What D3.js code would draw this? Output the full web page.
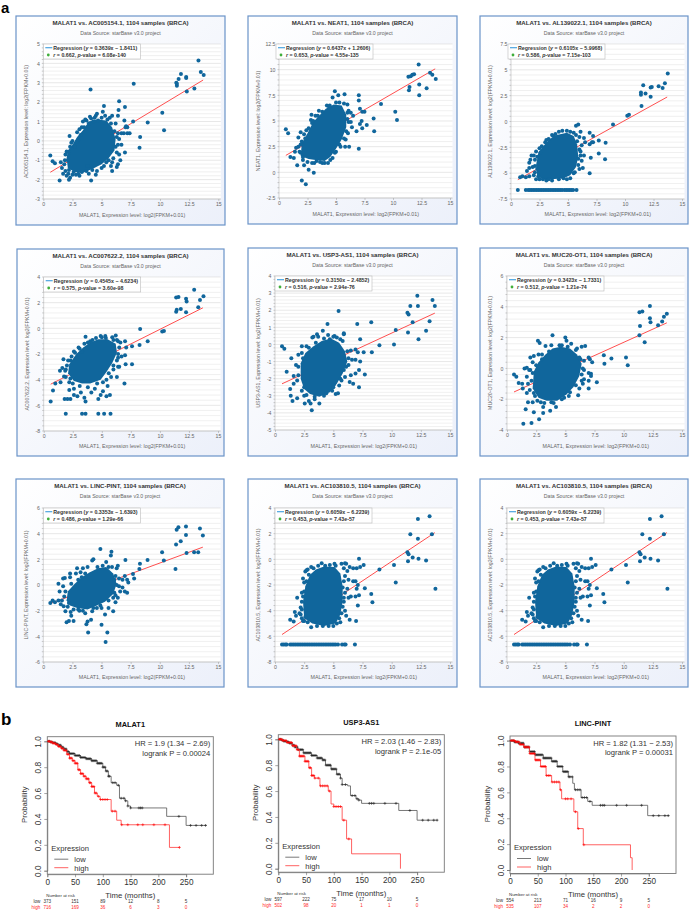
<!DOCTYPE html>
<html><head><meta charset="utf-8">
<script src="https://cdn.jsdelivr.net/npm/d3@7"></script>
<style>html,body{margin:0;background:#fff}svg{display:block}text{font-family:"Liberation Sans",Arial,sans-serif}</style>
</head><body><svg id="c" width="689" height="917"></svg>
<script>
// ---------- scatter data ----------
const scatterGenes = ["AC005154.1","NEAT1","AL139022.1","AC007622.2","USP3-AS1","MUC20-OT1","LINC-PINT","AC103810.5","AC103810.5"];
const regressionLabels = ["0.3639x − 1.8411","0.6437x + 1.2606","0.6105x − 5.9968","0.4545x − 4.6234","0.3150x − 2.4852","0.3423x − 1.7331","0.3353x − 1.6393","0.6059x − 6.2239","0.6059x − 6.2239"];
const statLabels = [["0.662","6.08e-140"],["0.653","4.55e-135"],["0.586","7.15e-103"],["0.575","3.60e-98"],["0.516","2.94e-76"],["0.512","1.21e-74"],["0.486","1.29e-66"],["0.453","7.43e-57"],["0.453","7.43e-57"]];
const yDomains = [[-3,5],[-2.5,12.5],[-7.5,7.5],[-8,4],[-5,4],[-4,6],[-6,6],[-8,4],[-8,4]];
const yMajor = [1,2.5,2.5,2,1,2,2,2,2];
const xTickValues = [0,2.5,5,7.5,10,12.5,15];
const regressionEnds = [[[0.6,-1.62],[13.7,3.14]],[[0.6,1.65],[13.7,10.08]],[[0.6,-5.63],[13.7,2.37]],[[0.6,-4.35],[13.7,1.60]],[[0.6,-2.30],[13.7,1.83]],[[0.6,-1.53],[13.7,2.96]],[[0.6,-1.44],[13.7,2.95]],[[0.6,-5.86],[13.7,2.08]],[[0.6,-5.86],[13.7,2.08]]];
// dense centre of each cloud (outline in data units)
const core1=[[2.0,-0.9],[2.1,-1.4],[2.7,-1.6],[3.4,-1.65],[4.2,-1.45],[5.0,-1.2],[5.6,-0.9],[6.1,-0.5],[6.2,0.1],[5.9,0.7],[5.4,1.05],[4.6,1.1],[3.9,1.0],[3.4,0.55],[2.9,0.2],[2.5,-0.2],[2.1,-0.5]];
const core2=[[1.9,1.6],[2.0,2.8],[2.5,3.8],[3.0,4.9],[3.6,5.6],[4.1,6.2],[4.8,6.6],[5.5,6.5],[5.9,5.6],[5.9,4.4],[5.5,3.2],[5.0,2.3],[4.5,1.5],[4.0,1.1],[3.2,1.2],[2.6,1.3]];
const core3=[[2.3,-5.3],[2.2,-4.2],[2.4,-3.0],[2.9,-2.3],[3.4,-1.7],[4.0,-1.3],[4.9,-1.1],[5.5,-1.4],[5.8,-2.2],[5.9,-3.4],[5.7,-4.4],[5.2,-5.2],[4.6,-5.5],[3.6,-5.6],[2.8,-5.6]];
const core4=[[2.1,-3.5],[2.2,-2.8],[2.8,-2.0],[3.4,-1.5],[4.0,-1.1],[4.7,-0.85],[5.5,-0.85],[6.2,-1.2],[6.3,-1.9],[5.9,-2.7],[5.4,-3.4],[4.9,-4.0],[4.0,-4.3],[3.3,-4.3],[2.6,-4.1]];
const core5=[[2.2,-2.0],[2.2,-1.1],[2.6,-0.5],[3.3,-0.1],[4.0,0.2],[4.8,0.35],[5.5,0.1],[6.0,-0.4],[6.2,-1.0],[5.8,-1.7],[5.3,-2.3],[4.7,-2.8],[3.8,-3.05],[3.0,-2.9],[2.5,-2.6]];
const core6=[[2.2,-1.3],[2.3,-0.2],[2.7,0.4],[3.3,0.9],[3.9,1.3],[4.6,1.4],[5.4,1.3],[6.0,0.9],[6.4,0.3],[6.2,-0.5],[5.7,-1.2],[5.1,-1.7],[4.3,-2.1],[3.4,-2.1],[2.7,-1.9]];
const core7=[[2.0,-1.2],[2.1,-0.5],[2.7,0.1],[3.3,0.6],[4.0,1.0],[4.7,1.3],[5.4,1.4],[6.0,0.9],[6.3,0.1],[6.0,-0.7],[5.3,-1.3],[4.6,-1.6],[3.8,-1.9],[2.9,-1.8],[2.3,-1.6]];
const core8=[[2.5,-4.6],[2.4,-3.3],[2.6,-2.1],[3.0,-1.2],[3.5,-0.8],[4.2,-0.55],[5.1,-0.6],[5.6,-1.1],[5.8,-2.1],[5.8,-3.3],[5.6,-4.3],[5.2,-5.0],[4.2,-5.2],[3.2,-5.0]];
// individually readable points
const pts1=[[1.5,-1.1],[1.6,-1.4],[1.7,-1.7],[1.8,-1.2],[1.9,-0.7],[2,-1.8],[2.1,-1],[2.2,-1.5],[2.2,-0.6],[2.3,-1.9],[2,-0.55],[2.3,-0.3],[2.25,0.25],[2.6,-1.6],[2.8,-1.75],[3,-1.7],[3.3,-1.6],[2.9,-0.05],[2.9,0.45],[3.1,0.6],[3.2,0.3],[3,0.05],[3.4,1],[3.6,1.1],[3.5,0.7],[3.9,0.9],[4.1,1.15],[4.3,1],[4.5,1.3],[4.6,1.4],[4.7,1.05],[5,1.2],[5.1,1.5],[5.3,1.3],[5.5,1.1],[5.7,1.2],[5.9,1.3],[6.1,0.5],[6.2,0.9],[6.4,0.4],[6.5,0.1],[6.7,-0.2],[6.9,0.4],[7,-0.6],[6.5,-0.7],[6.4,-1.2],[6.6,-1],[5.6,-1],[5.8,-1.3],[5,-1.4],[4.5,-1.75],[4.2,-1.5],[3.7,-1.55],[3.8,-1.3],[5.4,-1.1],[6,-0.9],[6.2,-0.3],[6.7,0.4],[7.2,0.7],[7.2,0.4],[7.4,0.4],[13.3,4.15],[13.5,3.55],[13.75,3.4],[11.4,3],[11.45,2.85],[11.45,2.95],[11.6,3.2],[11.8,3.45],[12.25,3.3],[12.25,3.25],[12.3,2.55],[12.95,2.7],[10.2,1.45],[10.35,0.55],[8.95,0.95],[8.3,0.2],[8.25,-0.35],[7.75,2.95],[4.05,2.65],[7.7,1],[7.1,0.75],[7.05,0.7],[6.95,1.05],[7,1.75],[6.5,2.05],[6.45,1.6],[6.4,1.3],[5.2,1.8],[0.6,-0.75],[0.8,-1.05],[1,-1.15],[1.4,-2.05],[2.2,-2],[4.1,-2.05],[5.9,-1.55],[6.3,-1.35],[2.7,-0.3],[2.5,0],[2.4,-0.1],[3.3,0.7],[3.7,1.05],[4,1.25],[4.4,1.2],[5.8,0.9],[6.3,0.2],[6.4,-0.2],[6.3,-0.6],[5.9,-1.1],[5.2,-1.3],[4.6,-1.55],[3.9,-1.7],[3.1,-1.8],[2.5,-1.75],[1.9,-1.55],[1.85,-1],[2.15,-1.7]];
const pts2=[[0.6,4.2],[0.8,3.8],[1,1.5],[1.3,1.4],[1.6,0.7],[2.2,0.7],[2.6,0.25],[3.05,-0.05],[2,-0.8],[2.35,-1.15],[1.4,2],[1.5,2.4],[1.7,2.5],[1.7,3.4],[1.9,3.9],[1.9,1.9],[2,3],[2.1,1.2],[2.2,3.7],[2.4,4.1],[2.8,5.1],[2.85,5.6],[2.9,4.8],[3.2,5.5],[3.5,6],[4.2,6.5],[4.45,6.5],[4.7,7.3],[4.9,7.9],[5.2,7.5],[5.75,7.6],[5.3,6.8],[5.7,6.7],[6,6.6],[6.1,6],[6.3,5.8],[6.5,5.5],[6,5.2],[6.3,4.9],[6.4,4.4],[7,7.5],[7,7],[7.1,6.2],[7.3,5.9],[7.25,5],[7.1,4.7],[7.3,4.3],[6.8,4],[7.7,4.6],[7.5,5.9],[6.05,3.8],[5.85,3.2],[5.8,2.5],[6.15,2.5],[7,2.3],[4.7,1.4],[4.3,0.9],[4,0.9],[3.6,1],[3.1,0.9],[2.9,0.9],[5,2],[5.4,2.5],[8.3,5.25],[8.35,4],[8.95,6.65],[10.2,5.9],[10.35,5.1],[11.35,9.3],[11.55,9.35],[11.7,9.5],[11.85,9.55],[12.25,10.5],[12.3,8.55],[12.3,7.5],[11.4,8],[11.45,8.3],[12.95,8.2],[13.25,9.7],[13.45,9.5],[13.75,9.1],[1.8,2],[1.9,2.7],[2.3,3.3],[2.6,4.3],[3,5],[3.4,5.5],[3.8,5.9],[4.4,6.3],[5,6.8],[6,5.8],[6.1,4.9],[5.9,4],[5.7,3.3],[5.3,2.7],[4.9,1.9],[4.5,1.2],[3.8,0.9],[3.3,1.1],[2.5,1],[2.1,1.5]];
const pts3=[[0.6,-6.64],[1.3,-6.64],[1.5,-6.64],[1.65,-6.64],[1.8,-6.64],[1.95,-6.64],[2.1,-6.64],[2.25,-6.64],[2.4,-6.64],[2.55,-6.64],[2.7,-6.64],[2.85,-6.64],[3,-6.64],[3.15,-6.64],[3.3,-6.64],[3.45,-6.64],[3.6,-6.64],[3.75,-6.64],[3.9,-6.64],[4.05,-6.64],[4.2,-6.64],[4.35,-6.64],[4.5,-6.64],[4.7,-6.64],[4.85,-6.64],[5,-6.64],[5.15,-6.64],[5.3,-6.64],[5.45,-6.64],[5.75,-6.64],[0.8,-5.4],[1,-5.3],[1.3,-5.4],[1.4,-4.8],[1.6,-5.3],[1.6,-4.5],[1.6,-4],[1.7,-3.7],[1.8,-3.3],[1.9,-4.4],[2,-3.3],[2.1,-4.9],[2.1,-3.7],[2.2,-5.6],[2.3,-4.6],[2.3,-3.4],[2.4,-5.3],[2.5,-2.6],[2.6,-3],[2.8,-5.6],[3,-2],[3.3,-1.7],[3.1,-5.7],[3.6,-5.7],[3.7,-1.4],[3.9,-1.2],[4.2,-1],[4.5,-0.9],[4.9,-0.9],[5.2,-1],[5.5,-1.1],[5.7,-0.4],[5.9,-0.3],[5.7,-1.3],[6,-1.5],[6.1,-1],[6.2,-2.3],[6.4,-1.6],[6.5,-2],[6,-2.7],[5.9,-3.6],[6.1,-3.3],[6,-4.6],[5.5,-5],[5.2,-5.5],[4.6,-5.5],[6.9,-5],[6.9,-2.2],[7.1,-2],[7.2,-2],[6.9,-1.1],[7.2,-1.4],[7,-3.5],[7.7,-1.85],[7.7,-3.1],[8.3,-2.05],[8.25,-3.65],[8.95,-0.3],[10.2,0.55],[10.35,0.65],[11.4,2.6],[11.4,2.8],[11.45,1.5],[11.6,3.5],[11.8,2.7],[12.25,3.3],[12.35,3.35],[12.25,2.4],[12.95,3.4],[13.3,3.25],[13.5,3.7],[13.75,4.65],[2,-5.2],[2.1,-4.3],[2.2,-2.9],[2.7,-2.4],[3.1,-1.8],[3.6,-1.3],[5.8,-1.9],[6.1,-2.9],[6.2,-3.8],[5.9,-4.2],[5.6,-4.9],[4.9,-5.6],[4.2,-5.6],[3.3,-5.6],[2.5,-5.6],[6.4,-3.3],[6.3,-4.5]];
const pts4=[[0.6,-5.7],[0.8,-4.85],[1,-4.3],[1.45,-4.2],[1.4,-3.3],[1.6,-3.1],[1.7,-2.4],[1.85,-3.3],[1.9,-3.8],[1.75,-3.75],[2,-2.9],[2.3,-2.5],[2.4,-2.2],[2.7,-1.9],[3,-1.5],[3.3,-1.8],[3.5,-1.2],[3.6,-0.65],[4,-1],[4.2,-0.9],[4.9,-0.6],[5.3,-0.6],[5.35,-0.75],[5.9,-0.7],[6.2,-0.55],[6,-0.9],[6.4,-1],[6.6,-1.1],[7,-1],[7.1,-1.5],[7.6,-1.4],[6.4,-2],[6.7,-2.2],[6.3,-2.5],[7,-2.1],[7.05,-2.8],[7.6,-2.8],[6.5,-3],[6,-3.2],[5.8,-3.8],[6.3,-3.8],[6.4,-3],[6.95,-4.3],[5.4,-4],[5.5,-4.5],[5.1,-4.9],[5.7,-5.2],[5.4,-5.3],[4.7,-5.5],[4.9,-5.2],[4.4,-4.7],[4.1,-5],[3.6,-5.7],[3.5,-5.4],[3.2,-5],[2.9,-5.3],[2.6,-5.2],[2.6,-4.7],[2.2,-4.8],[2.3,-5.5],[2.05,-5.5],[1.8,-5.5],[2.2,-4.2],[1.9,-6.65],[3.3,-6.65],[3.6,-6.65],[4.7,-6.65],[5.2,-6.65],[5.75,-6.65],[8.25,-1.3],[8.3,-0.05],[8.95,-1],[10.2,-0.25],[10.35,-0.2],[11.4,1.3],[11.45,1.45],[11.4,2.4],[11.6,2.45],[11.8,1.5],[12.25,2.3],[12.3,2.1],[12.25,1.25],[12.95,3],[13.3,1.65],[13.45,2.2],[13.75,2.5],[1.9,-3.2],[2.3,-3.9],[2.5,-4.3],[3.1,-4.5],[3.8,-4.6],[4.6,-4.3],[5.1,-4.2],[5.6,-3.5],[6,-2.9],[6.4,-2.3],[6.5,-1.5],[6.3,-0.9],[5,-0.7],[4.5,-0.75],[3.8,-1.1],[3.1,-1.6],[2.6,-1.8],[2.1,-2.5]];
const pts5=[[0.6,-0.1],[0.8,-0.25],[1,-1.6],[1.4,-0.8],[1.3,-2.6],[1.35,-3],[1.5,-3.3],[1.6,-2.3],[1.6,-1.85],[1.9,-3.15],[1.9,-2.1],[1.8,-1.2],[2,-0.6],[2.3,-0.5],[2.3,-0.1],[2.5,-3],[2.5,-2.5],[2.55,-3.45],[2.7,-0.1],[2.9,-3.3],[3.05,-3.45],[3.15,-3.85],[3.2,0.4],[3.4,-3.2],[3.8,-3.45],[3.3,0.45],[3.6,0.6],[3.7,0.45],[4.1,0.8],[4.5,1.2],[4.55,0.55],[4.7,0.3],[5.1,0.5],[5.3,0.4],[5.9,0.6],[5.9,0.65],[5.45,1.95],[5.8,0.2],[6.2,-0.4],[6.5,-0.35],[6.9,-0.3],[7.05,1.2],[7.3,0.3],[7.1,-0.45],[7.6,-0.45],[7.3,-1],[6.9,-0.9],[6.6,-0.9],[6.3,-1.2],[5.9,-1.5],[6,-1.9],[6.5,-1.8],[6.4,-2.2],[6.7,-2.3],[7.2,-1.5],[6.9,-1.7],[7.7,-1.75],[7.2,-2.5],[5.5,-2.4],[5.7,-2.1],[5.4,-2.85],[5.2,-2.9],[5,-2.4],[4.9,-2.7],[4.4,-2.85],[8.25,1.3],[8.3,-0.45],[8.95,-0.05],[10.2,0],[10.35,0.85],[11.35,1.85],[11.45,1.75],[11.4,0.7],[11.6,2.25],[11.8,1.3],[12.25,2.25],[12.2,2.85],[12.3,0.3],[12.95,0.8],[13.25,1.35],[13.5,2.6],[13.7,2.25],[2,-1.8],[2,-1.3],[2.4,-0.8],[2.9,-0.2],[3.5,0.1],[4.2,0.35],[5,0.45],[5.6,0.3],[6.3,-0.8],[6.1,-1.3],[5.6,-2],[5,-2.5],[4.2,-3],[3.4,-3.05],[2.7,-2.95],[2.3,-2.7]];
const pts6=[[0.6,-0.4],[0.8,-0.55],[1,-0.95],[1.3,-1],[1.35,-1.3],[1.4,-3.6],[1.6,-2.65],[1.5,0],[1.7,0.05],[1.7,-0.55],[1.8,-1],[1.7,-1.6],[1.8,-2.2],[1.9,-0.1],[2,-0.1],[2,0.7],[1.95,-1.4],[2.2,0.4],[2.3,0.8],[2.7,0.9],[2.65,1.8],[2.8,1.65],[3,0.9],[2.1,-3.55],[2.3,-2.85],[2.2,-2.2],[2.4,-1.8],[2.75,-3.3],[3.1,-2.9],[3.1,-2.5],[2.9,-2.2],[3.7,-2.75],[3.8,-2.2],[4.2,-2.5],[3.3,1.45],[3.9,2.15],[3.8,1.5],[4.5,1.5],[5,2],[5.1,1.8],[5.5,1.6],[5.2,1.4],[4.7,1.5],[5.9,1.2],[6,1.3],[6.4,1.4],[6.7,1.45],[6.3,0.6],[6.6,0.5],[7,0.7],[7.1,0.6],[7.3,0.4],[6.6,-0.1],[7,-0.3],[7.2,-0.35],[6.4,-0.8],[6.6,-0.7],[7,-0.8],[7.2,-0.5],[6.5,-1],[7.7,-0.9],[7,-1.3],[6.2,-1.3],[6.1,-1.75],[5.3,-1.8],[4.9,-1.9],[8.3,0.85],[8.35,0.3],[8.95,0.65],[10.2,0.7],[10.35,0.2],[11.35,3.65],[11.6,3.7],[11.4,2.75],[11.35,2.15],[11.8,1.7],[12.25,4.05],[12.25,3.25],[12.3,3],[12.95,2.8],[13.3,3.05],[13.45,3.35],[13.7,3.55],[2.1,-0.8],[2.2,-0.3],[2.5,0.2],[3,0.6],[3.6,1.1],[6.2,0.7],[6.5,0],[6.4,-0.4],[5.9,-1.1],[5.4,-1.55],[4.7,-2],[4,-2.25],[3.2,-2.25],[2.6,-2.1],[2.3,-1.6]];
const pts7=[[0.6,-1.4],[0.8,-1.2],[1,-1.35],[1.3,-1.2],[1.4,-0.5],[1.3,0.1],[1.5,-1.5],[1.6,-1.2],[1.7,0.5],[1.85,0.55],[1.7,-0.1],[1.75,-1.65],[1.9,-2.05],[2,-2.9],[2.2,-2.8],[2.4,-2.4],[2.35,-2.1],[2.6,-2.8],[2.2,-1.4],[2.3,0.9],[2.3,0.6],[2.8,0.9],[2.9,1.3],[3.2,1],[3.3,0.6],[3.4,1.3],[3.8,1.4],[4.2,1.9],[4.3,2],[4.65,1.4],[4.9,2.8],[5.1,1.5],[5.4,1.8],[5.6,1.4],[5.8,2.3],[5.85,2.6],[5.9,1.4],[6.1,0.4],[6.3,1.3],[6.4,1.5],[6.5,0.5],[6.3,0],[7.05,1.95],[7,0.7],[6.8,0.4],[7.2,0.4],[7.3,0.2],[6.8,-0.2],[6.6,-0.5],[7,-0.5],[7.2,-0.6],[6,-1],[6.2,-0.8],[6.4,-1],[6.2,-1.35],[6,-2.05],[5.6,-1.8],[5.3,-2.3],[5,-1.8],[4.6,-1.8],[4.2,-2.05],[3.6,-2.2],[3.8,-2.85],[3.7,-3.05],[4.1,-2.7],[3.1,-2],[3,-1.9],[3.85,-3.7],[5,-3.1],[5.5,-3.7],[5.35,-4.45],[7.7,0.85],[7.8,0.5],[8.25,1.25],[8.3,1.65],[8.95,1.95],[10.2,2.55],[10.35,1.9],[11.35,1.25],[11.4,3.15],[11.45,4.3],[11.6,4.5],[11.8,3.4],[12.25,4.55],[12.25,3.9],[12.3,2.5],[12.95,2.55],[13.3,2.55],[13.45,4.4],[13.7,3.85],[1.8,-0.9],[1.9,-0.5],[2.4,0.1],[3,0.4],[3.6,0.9],[6.2,0.7],[6.5,-0.1],[6.1,-0.6],[5.6,-1.2],[4.9,-1.6],[4.3,-1.8],[3.4,-2],[2.6,-1.9],[2.1,-1.7]];
const pts8=[[0.6,-6.64],[0.75,-6.64],[0.9,-6.64],[1,-6.64],[1.3,-6.64],[1.45,-6.64],[1.6,-6.64],[1.75,-6.64],[1.9,-6.64],[2.05,-6.64],[2.2,-6.64],[2.35,-6.64],[2.5,-6.64],[2.65,-6.64],[2.8,-6.64],[2.95,-6.64],[3.1,-6.64],[3.25,-6.64],[3.4,-6.64],[3.55,-6.64],[3.7,-6.64],[3.85,-6.64],[4,-6.64],[4.15,-6.64],[4.3,-6.64],[4.45,-6.64],[4.6,-6.64],[4.75,-6.64],[4.9,-6.64],[5.05,-6.64],[5.2,-6.64],[5.4,-6.64],[5.75,-6.64],[5.95,-6.64],[6.05,-6.64],[6.85,-6.64],[1.3,-4.7],[1.6,-4.85],[1.7,-4.1],[1.8,-4.4],[1.9,-3],[2.1,-4.2],[2.2,-3.75],[2.3,-4.6],[2.3,-3.3],[2.4,-2.9],[2.4,-1.5],[2.6,-0.95],[2.7,-0.85],[2.8,-0.8],[2.7,-1.7],[2.5,-4.8],[2.5,-2.5],[2.4,-4.8],[3.1,-5.3],[3.1,-0.6],[3.7,-0.5],[4,-0.3],[4.3,-0.5],[4.7,-0.45],[5.1,-0.35],[5.2,-0.5],[5.7,-0.35],[6,-0.3],[6.1,-0.35],[5.9,-0.7],[6.2,-0.9],[6.4,-0.6],[6.7,-0.7],[7.2,0.05],[7,-0.7],[7.3,-0.6],[7.6,-0.45],[6,-1.3],[6.3,-1.6],[6.7,-1.7],[6.9,-1.7],[7.1,-2],[7,-2.3],[7.7,-2.25],[5.8,-2.2],[6.2,-2.3],[6.5,-2.9],[6.3,-3],[6.9,-2.9],[7.2,-2.8],[7.1,-3.6],[5.9,-3.3],[5.8,-3.7],[6,-4],[6.1,-4.4],[6.4,-4.7],[5.5,-4.6],[5.6,-4.9],[5.3,-5],[6.95,-4.8],[4.6,-5.2],[4.1,-5.2],[8.25,-2.7],[8.35,-3.35],[8.95,-0.8],[10.2,-0.45],[10.35,-1.8],[11.35,0.55],[11.45,0.4],[11.4,-0.15],[11.6,1.95],[11.8,0.15],[12.25,3.15],[12.25,1.6],[12.3,0.05],[12.95,-0.1],[13.25,3.35],[13.45,1.95],[13.75,-2.3],[2.2,-4.3],[2.3,-3.9],[2.3,-2.6],[2.5,-1.8],[2.9,-1.2],[3.3,-0.7],[5.9,-1.7],[6,-2.6],[5.9,-3],[5.7,-4.2],[5,-5.2],[3.6,-5.2],[2.8,-4.9],[2.6,-4.5]];
const scatterPoints=[pts1,pts2,pts3,pts4,pts5,pts6,pts7,pts8,pts8];
const scatterCores=[core1,core2,core3,core4,core5,core6,core7,core8,core8];

// ---------- survival data ----------
const kmTitles=["MALAT1","USP3-AS1","LINC-PINT"];
const hrLabels=["HR = 1.9 (1.34 − 2.69)","HR = 2.03 (1.46 − 2.83)","HR = 1.82 (1.31 − 2.53)"];
const pLabels=["logrank P = 0.00024","logrank P = 2.1e-05","logrank P = 0.00031"];
const kmTimes=[0,50,100,150,200,250];
const kmProb=[0,0.2,0.4,0.6,0.8,1];
const lowRisk=[[373,151,89,12,8,5],[597,222,75,17,10,5],[554,213,71,16,9,5]];
const highRisk=[[716,169,36,6,3,0],[502,98,20,1,1,0],[535,107,34,2,2,0]];
const lowCurves=[
[[0,1],[5,.995],[10,.99],[15,.98],[20,.97],[25,.955],[30,.94],[35,.92],[40,.905],[50,.89],[60,.875],[70,.865],[80,.85],[90,.83],[100,.80],[105,.77],[110,.73],[115,.68],[125,.66],[130,.56],[140,.54],[145,.50],[150,.485],[215,.42],[250,.35],[287,.35]],
[[0,1],[5,.995],[10,.985],[15,.98],[20,.97],[25,.955],[30,.94],[35,.92],[45,.895],[60,.875],[70,.855],[80,.84],[85,.80],[95,.77],[105,.73],[112,.70],[115,.65],[125,.64],[130,.565],[140,.54],[145,.53],[150,.505],[217,.45],[250,.375],[287,.375]],
[[0,1],[8,.99],[15,.98],[25,.95],[35,.915],[45,.89],[60,.865],[75,.84],[85,.80],[95,.76],[105,.72],[113,.67],[116,.62],[128,.56],[140,.53],[148,.50],[248,.42],[287,.42]]];
const highCurves=[
[[0,1],[5,.995],[10,.985],[15,.975],[20,.96],[25,.945],[30,.93],[35,.90],[40,.87],[45,.85],[50,.83],[55,.78],[60,.75],[65,.73],[70,.71],[75,.68],[80,.65],[85,.60],[90,.575],[95,.55],[115,.46],[125,.39],[133,.355],[220,.18],[238,.18]],
[[0,1],[8,.99],[15,.975],[25,.95],[33,.92],[38,.87],[48,.83],[55,.78],[60,.72],[65,.70],[75,.64],[90,.60],[95,.50],[100,.48],[115,.375],[123,.23],[132,.115],[220,0]],
[[0,1],[10,.99],[18,.97],[25,.95],[35,.90],[45,.85],[55,.80],[65,.73],[75,.68],[90,.62],[93,.55],[115,.45],[122,.32],[132,.195],[217,.095],[220,0]]];
const lowCensor=[
[2,4,6,8,10,12,14,16,18,20,22,24,26,28,30,32,34,36,38,40,42,44,46,48,50,52,54,56,58,60,62,64,66,68,70,72,74,76,78,80,82,84,86,88,90,92,94,96,98,100,102,104,106,108,110,112,118,122,128,133,138,141,145,150,165,168,171,237,258,268,278,285],
[2,4,6,8,10,12,14,16,18,20,22,24,26,28,30,32,34,36,38,40,42,44,46,48,50,52,54,56,58,60,62,64,66,68,70,72,74,76,78,80,82,84,86,88,90,92,94,96,98,100,102,104,106,108,110,112,115,121,133,138,142,145,164,168,172,192,212,237,260,270,280,286],
[2,4,6,8,10,12,14,16,18,20,22,24,26,28,30,32,34,36,38,40,42,44,46,48,50,52,54,56,58,60,62,64,66,68,70,72,74,76,78,80,82,84,86,88,90,92,94,96,98,100,102,104,106,108,112,118,122,126,130,134,138,144,163,167,170,192,210,237,258,268,279,285]];
const highCensor=[
[2,4,6,8,10,12,14,16,18,20,22,24,26,28,30,32,34,36,38,40,42,44,46,48,50,52,54,56,58,60,62,64,66,68,70,72,74,76,78,80,82,84,86,88,92,96,100,104,108,117,122,134,145,163,172,192,212,238],
[2,4,6,8,10,12,14,16,18,20,22,24,26,28,30,32,34,36,38,40,42,44,46,48,50,52,54,56,58,60,62,64,66,72,76,80,84,88,92,100,104,108,112,118,127],
[2,4,6,8,10,12,14,16,18,20,22,24,26,28,30,32,34,36,38,40,42,44,46,48,50,52,54,56,58,60,62,64,66,69,72,76,80,84,88,91,100,104,110,118,123,133]];

// ---------- layout ----------
const frames=[[16,16,209,209],[248,16,209,208],[480,16,208,208],[17,249,207,207],[248,248,209,208],[480,248,208,208],[16,479,208,208],[248,479,209,208],[480,479,208,208]];
const plotX=[[43.3,218.3],[279,450],[511,682],[43.7,218],[275,450],[507,682],[43.3,218],[275,450],[507,682]];
const plotY=[[199,44],[198,44],[199,44],[431,277],[430,276],[430,276],[662,508],[662,508],[662,508]];
const legendDx=[0,-3,-3,0,0,0,0,0,0];
const kmBox=[[47.3,736.7],[278.3,734.7],[510,736]];
const BLUE="#10669c";

const svg=d3.select("#c");
const defs=svg.append("defs");
const g=defs.append("linearGradient").attr("id","bg").attr("x1",0).attr("y1",0).attr("x2",1).attr("y2",1);
g.append("stop").attr("offset",0).attr("stop-color","#ffffff");
g.append("stop").attr("offset",1).attr("stop-color","#ecf0fa");

svg.append("text").attr("x",1).attr("y",13).attr("font-size",15).attr("font-weight",700).attr("fill","#000").text("a");
svg.append("text").attr("x",1).attr("y",725).attr("font-size",17).attr("font-weight",700).attr("fill","#000").text("b");

scatterGenes.forEach((gene,i)=>{
  const [fx,fy,fw,fh]=frames[i];
  const p=svg.append("g");
  p.append("rect").attr("x",fx).attr("y",fy).attr("width",fw).attr("height",fh).attr("fill","url(#bg)").attr("stroke","#6a93c8").attr("stroke-width",1.2);
  const x=d3.scaleLinear().domain([0,15]).range(plotX[i]);
  const y=d3.scaleLinear().domain(yDomains[i]).range(plotY[i]);
  const right=plotX[i][1]+2.5;
  p.append("rect").attr("x",plotX[i][0]).attr("y",plotY[i][1]).attr("width",right-plotX[i][0]).attr("height",plotY[i][0]-plotY[i][1]).attr("fill","#fff");
  const minor=yMajor[i]/5, n=Math.round((yDomains[i][1]-yDomains[i][0])/minor);
  const levels=d3.range(n+1).map(k=>yDomains[i][0]+k*minor);
  p.selectAll(".g").data(levels).join("line").attr("x1",plotX[i][0]).attr("x2",right).attr("y1",d=>y(d)).attr("y2",d=>y(d)).attr("stroke",(d,k)=>k%5===0?"#d8d8d8":"#e6e6e6").attr("stroke-width",.6);
  p.selectAll(".t").data(levels).join("line").attr("x1",plotX[i][0]).attr("x2",plotX[i][0]-1.5).attr("y1",d=>y(d)).attr("y2",d=>y(d)).attr("stroke","#999").attr("stroke-width",.5);
  p.append("line").attr("x1",plotX[i][0]).attr("x2",plotX[i][0]).attr("y1",plotY[i][0]).attr("y2",plotY[i][1]).attr("stroke","#aaa").attr("stroke-width",.5);
  p.append("line").attr("x1",plotX[i][0]).attr("x2",right).attr("y1",plotY[i][0]).attr("y2",plotY[i][0]).attr("stroke","#aaa").attr("stroke-width",.5);
  const xa=p.append("g").attr("transform",`translate(0,${plotY[i][0]})`).call(d3.axisBottom(x).tickValues(xTickValues).tickSize(2).tickFormat(d=>String(d)));
  xa.select(".domain").remove();
  xa.selectAll("line").attr("stroke","#999").attr("stroke-width",.5);
  xa.selectAll("text").attr("font-size",5.2).attr("fill","#666").attr("font-family","Liberation Sans").attr("dy","0.3em");
  const ya=p.append("g").attr("transform",`translate(${plotX[i][0]},0)`).call(d3.axisLeft(y).tickValues(levels.filter((d,k)=>k%5===0)).tickSize(0).tickPadding(3.5).tickFormat(d=>String(d)));
  ya.select(".domain").remove();
  ya.selectAll("text").attr("font-size",5.2).attr("fill","#666").attr("font-family","Liberation Sans");
  p.append("path").datum(regressionEnds[i]).attr("d",d3.line().x(d=>x(d[0])).y(d=>y(d[1]))).attr("stroke","#ff3b3b").attr("stroke-width",.9).attr("fill","none");
  p.append("path").datum(scatterCores[i]).attr("d",d3.line().x(d=>x(d[0])).y(d=>y(d[1])).curve(d3.curveLinearClosed)).attr("fill",BLUE);
  p.selectAll("circle").data(scatterPoints[i]).join("circle").attr("cx",d=>x(d[0])).attr("cy",d=>y(d[1])).attr("r",2).attr("fill",BLUE);
  const cx=fx+fw/2;
  p.append("text").attr("x",cx).attr("y",fy+8.5).attr("text-anchor","middle").attr("font-size",6.1).attr("font-weight",700).attr("fill","#333").text(`MALAT1 vs. ${gene}, 1104 samples (BRCA)`);
  p.append("text").attr("x",cx).attr("y",fy+19).attr("text-anchor","middle").attr("font-size",5.2).attr("fill","#666").text("Data Source: starBase v3.0 project");
  p.append("text").attr("x",(plotX[i][0]+right)/2).attr("y",fy+fh-8).attr("text-anchor","middle").attr("font-size",5.3).attr("fill","#666").text("MALAT1, Expression level: log2(FPKM+0.01)");
  p.append("text").attr("transform",`translate(${fx+12},${(plotY[i][0]+plotY[i][1])/2}) rotate(-90)`).attr("text-anchor","middle").attr("font-size",5.2).attr("fill","#666").text(`${gene}, Expression level: log2(FPKM+0.01)`);
  const lx=plotX[i][0]+legendDx[i], ly=plotY[i][1];
  p.append("rect").attr("x",lx).attr("y",ly).attr("width",97).attr("height",15).attr("fill","#fff").attr("fill-opacity",.9).attr("stroke","#bbb").attr("stroke-width",.6);
  p.append("line").attr("x1",lx+2).attr("x2",lx+9).attr("y1",ly+3.7).attr("y2",ly+3.7).attr("stroke","#4aa3df").attr("stroke-width",1.2);
  p.append("circle").attr("cx",lx+5).attr("cy",ly+11).attr("r",1.4).attr("fill","#3fae3a");
  const t1=p.append("text").attr("x",lx+10).attr("y",ly+5.6).attr("font-size",5.3).attr("font-weight",700).attr("fill","#333");
  t1.append("tspan").text("Regression (");t1.append("tspan").attr("font-style","italic").text("y");t1.append("tspan").text(" = "+regressionLabels[i]+")");
  const t2=p.append("text").attr("x",lx+10).attr("y",ly+12.8).attr("font-size",5.3).attr("font-weight",700).attr("fill","#333");
  t2.append("tspan").attr("font-style","italic").text("r");t2.append("tspan").text(" = "+statLabels[i][0]+", ");t2.append("tspan").attr("font-style","italic").text("p");t2.append("tspan").text("-value = "+statLabels[i][1]);
});

const K_W=166, K_H=137.5;
const INK="#555", REDLINE="#ff3a3a";
kmTitles.forEach((title,i)=>{
  const [bx,by]=kmBox[i];
  const p=svg.append("g");
  const x=d3.scaleLinear().domain([0,250]).range([bx,bx+138.8]);
  const y=d3.scaleLinear().domain([0,1]).range([by+134,by+4.6]);
  p.append("rect").attr("x",bx).attr("y",by).attr("width",K_W).attr("height",K_H).attr("fill","none").attr("stroke","#777").attr("stroke-width",.9);
  const xa=p.append("g").attr("transform",`translate(0,${by+K_H})`).call(d3.axisBottom(x).tickValues(kmTimes).tickSize(3).tickPadding(1.5));
  xa.select(".domain").attr("stroke","#666").attr("stroke-width",.6);
  xa.selectAll("line").attr("stroke","#666").attr("stroke-width",.6);
  xa.selectAll("text").attr("font-size",8.2).attr("fill","#333").attr("font-family","Liberation Sans");
  const ya=p.append("g").attr("transform",`translate(${bx},0)`).call(d3.axisLeft(y).tickValues(kmProb).tickSize(3).tickFormat(d3.format(".1f")));
  ya.select(".domain").attr("stroke","#666").attr("stroke-width",.6);
  ya.selectAll("line").attr("stroke","#666").attr("stroke-width",.6);
  ya.selectAll("text").attr("font-size",8.4).attr("fill","#333").attr("font-family","Liberation Sans").attr("text-anchor","middle").attr("dy",0).attr("x",0).attr("y",0).attr("transform","translate(-6.5,0) rotate(-90)");
  const line=d3.line().x(d=>x(d[0])).y(d=>y(d[1])).curve(d3.curveStepAfter);
  [[lowCurves[i],lowCensor[i],INK,"#222"],[highCurves[i],highCensor[i],REDLINE,"#f00"]].forEach(([curve,cen,col,cenCol])=>{
    p.append("path").datum(curve).attr("d",line).attr("fill","none").attr("stroke",col).attr("stroke-width",.8);
    const bis=d3.bisector(d=>d[0]).right;
    p.selectAll(null).data(cen).join("path").attr("d",t=>{const v=curve[Math.max(0,bis(curve,t)-1)][1];return `M${x(t)-1.4},${y(v)}h2.8M${x(t)},${y(v)-1.4}v2.8`;}).attr("stroke",cenCol).attr("stroke-width",.6).attr("fill","none");
  });
  const cx=bx+K_W/2;
  p.append("text").attr("x",cx).attr("y",by-10).attr("text-anchor","middle").attr("font-size",7.4).attr("font-weight",700).attr("fill","#111").text(title);
  p.append("text").attr("x",bx+K_W-3).attr("y",by+9.6).attr("text-anchor","end").attr("font-size",7.6).attr("fill","#333").text(hrLabels[i]);
  p.append("text").attr("x",bx+K_W-3).attr("y",by+19).attr("text-anchor","end").attr("font-size",7.6).attr("fill","#333").text(pLabels[i]);
  p.append("text").attr("transform",`translate(${bx-20},${by+68}) rotate(-90)`).attr("text-anchor","middle").attr("font-size",7.8).attr("fill","#333").text("Probability");
  p.append("text").attr("x",cx).attr("y",by+161).attr("text-anchor","middle").attr("font-size",7.8).attr("fill","#333").text("Time (months)");
  p.append("text").attr("x",bx+4).attr("y",by+114).attr("font-size",7.6).attr("fill","#333").text("Expression");
  [["low",INK,122.5],["high",REDLINE,131]].forEach(([lab,col,dy])=>{
    p.append("line").attr("x1",bx+7).attr("x2",bx+21).attr("y1",by+dy).attr("y2",by+dy).attr("stroke",col).attr("stroke-width",.8);
    p.append("text").attr("x",bx+27).attr("y",by+dy+2.8).attr("font-size",7.6).attr("fill","#333").text(lab);
  });
  const r0=by+K_H+28.5;
  p.append("text").attr("x",x(0)-1).attr("y",r0-6).attr("font-size",4.4).attr("fill","#333").text("Number at risk");
  [["low",lowRisk[i],"#333",0],["high",highRisk[i],"#ff2a2a",5.8]].forEach(([lab,vals,col,dy])=>{
    p.append("text").attr("x",x(0)-7).attr("y",r0+dy).attr("text-anchor","end").attr("font-size",4.6).attr("fill",col).text(lab);
    p.selectAll(null).data(vals).join("text").attr("x",(d,k)=>x(kmTimes[k])).attr("y",r0+dy).attr("text-anchor","middle").attr("font-size",4.6).attr("fill",col).text(d=>d);
  });
});
</script></body></html>
